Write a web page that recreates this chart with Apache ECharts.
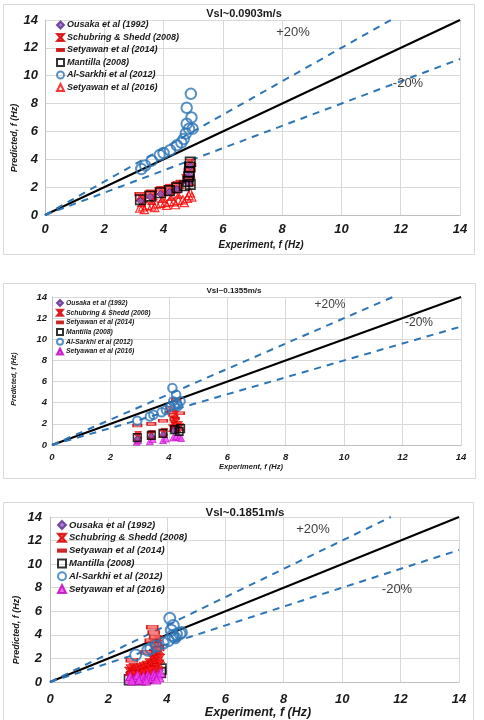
<!DOCTYPE html>
<html><head><meta charset="utf-8">
<script src="https://cdn.jsdelivr.net/npm/echarts@6/dist/echarts.min.js"></script>
<style>html,body{margin:0;padding:0;background:#fff}#c{width:484px;height:720px}</style>
</head><body><div id="c"></div>
<script>
// ---------- labels ----------
const seriesNames = ['Ousaka et al (1992)','Schubring & Shedd (2008)','Setyawan et al (2014)','Mantilla (2008)','Al-Sarkhi et al (2012)','Setyawan et al (2016)'];
const panelTitles = ['Vsl~0.0903m/s','Vsl~0.1355m/s','Vsl~0.1851m/s'];
const xTitle = 'Experiment, f (Hz)';
const yTitle = 'Predicted, f (Hz)';
const axisTicks = [0,2,4,6,8,10,12,14];
// reference lines (x,y)
const parityLine = [[0,0],[14,14]];
const plus20Line = [[0,0],[11.667,14]];
const minus20Line = [[0,0],[14,11.2]];

// ---------- Panel 1 : Vsl~0.0903 ----------
const p1_ousaka_x = [3.22,3.55,3.9,4.2,4.45,4.82,4.87,4.9];
const p1_ousaka_y = [1.0,1.3,1.5,1.65,1.85,2.3,2.9,3.5];
const p1_schub_x = [3.2,3.3,3.55,3.65,3.9,4.0,4.2,4.3,4.45,4.55,4.75,4.85,4.88,4.9,4.92,3.25,3.6,3.95,4.25,4.5];
const p1_schub_y = [1.3,1.2,1.5,1.4,1.75,1.7,1.9,1.85,2.1,2.2,2.6,3.0,3.4,3.7,2.4,0.9,1.05,1.2,1.35,1.5];
const p1_set14_x = [3.22,3.55,3.9,4.2,4.45,4.85,4.88,4.9];
const p1_set14_y = [1.5,1.6,1.85,2.0,2.2,2.7,3.2,3.6];
const p1_mant_x = [3.22,3.55,3.9,4.2,4.45,4.7,4.82,4.85,4.87,4.88,4.9,4.9];
const p1_mant_y = [1.1,1.35,1.6,1.75,1.95,2.1,2.4,2.75,3.1,3.45,3.8,2.2];
const p1_sark_x = [3.25,3.38,3.6,3.87,4.0,4.22,4.45,4.6,4.68,4.75,4.78,4.86,4.94,4.98,4.78,4.92];
const p1_sark_y = [3.3,3.55,3.9,4.3,4.45,4.65,5.0,5.2,5.45,5.85,6.55,6.2,7.0,6.2,7.7,8.7];
const p1_set16_x = [3.2,3.3,3.45,3.6,3.75,3.9,4.05,4.2,4.35,4.5,4.65,4.8,4.85,4.9,4.95,3.35,3.7,4.1,4.4,4.7];
const p1_set16_y = [0.5,0.6,0.7,0.65,0.8,0.85,0.9,0.95,0.95,1.05,1.1,1.2,1.4,1.6,1.3,0.4,0.55,0.7,0.75,0.9];

// ---------- Panel 2 : Vsl~0.1355 ----------
const p2_ousaka_x = [2.92,3.4,3.8,4.15,4.3];
const p2_ousaka_y = [0.6,0.85,1.0,1.35,1.6];
const p2_schub_x = [2.92,2.95,3.38,3.42,3.8,3.85,4.1,4.15,4.18,4.2,4.22,4.25,4.3,4.35,4.4];
const p2_schub_y = [0.75,0.95,0.9,1.05,1.1,1.25,1.6,2.0,2.4,1.8,2.9,2.2,1.5,1.9,1.7];
const p2_set14_x = [2.92,3.4,3.8,4.05,4.1,4.15,4.2,4.25,4.38];
const p2_set14_y = [1.85,2.0,2.3,3.5,3.15,2.85,2.5,4.3,3.0];
const p2_mant_x = [2.92,3.4,3.8,4.2,4.4,4.35];
const p2_mant_y = [0.7,0.9,1.1,1.45,1.55,1.3];
const p2_sark_x = [2.92,3.35,3.47,3.75,3.9,4.05,4.12,4.15,4.2,4.25,4.28,4.32,4.4];
const p2_sark_y = [2.3,2.7,2.85,3.1,3.3,3.65,5.4,4.15,3.8,4.75,3.95,3.7,4.15];
const p2_set16_x = [2.9,2.95,3.35,3.45,3.8,3.9,4.15,4.25,4.35,4.42];
const p2_set16_y = [0.3,0.45,0.35,0.55,0.45,0.6,0.7,0.8,0.75,0.65];

// ---------- Panel 3 : Vsl~0.1851 ----------
const p3_ousaka_x = [2.72,3.0,3.3,3.55,3.75];
const p3_ousaka_y = [0.8,0.6,0.7,0.9,1.0];
const p3_schub_x = [2.7,2.75,2.8,2.85,2.9,2.95,3.0,3.05,3.1,3.15,3.2,3.25,3.3,3.35,3.4,3.45,3.5,3.5,3.55,3.55,3.6,3.6,3.65,3.65,3.7,3.7,3.72,3.75,3.78,2.75,2.9,3.05,3.2,3.35,3.5,3.65,3.75,3.6,3.45];
const p3_schub_y = [0.9,1.1,0.8,1.2,0.7,1.0,1.1,0.9,1.2,1.0,1.3,1.1,1.4,1.2,1.6,1.4,2.0,1.5,1.8,2.3,2.1,2.6,1.9,2.9,3.2,2.4,3.5,2.7,2.0,0.5,0.6,0.55,0.7,0.8,0.9,1.2,1.5,1.0,0.95];
const p3_set14_x = [2.8,3.3,3.45,3.5,3.55,3.6,3.62,3.7];
const p3_set14_y = [1.85,2.5,3.5,4.65,4.2,3.8,3.2,2.8];
const p3_mant_x = [2.72,2.9,3.1,3.3,3.78,3.8];
const p3_mant_y = [0.2,0.25,0.2,0.3,0.8,1.1];
const p3_sark_x = [2.93,3.35,3.45,3.65,3.88,4.05,4.1,4.15,4.22,4.28,4.33,4.45,4.5,4.2];
const p3_sark_y = [2.3,2.7,2.85,3.05,3.3,3.5,5.4,4.4,4.8,3.75,4.05,4.1,4.2,3.95];
const p3_set16_x = [2.7,2.75,2.85,2.95,3.0,3.1,3.2,3.25,3.35,3.4,3.5,3.55,3.6,3.7,3.75,3.8,2.8,3.05,3.3,3.65];
const p3_set16_y = [0.3,0.5,0.2,0.4,0.6,0.3,0.5,0.2,0.6,0.4,0.3,0.7,0.5,0.6,0.4,0.8,0.1,0.15,0.1,0.2];

// ---------- build ----------
const FONT = '"Liberation Sans",Arial,sans-serif';
const HOURGLASS = 'path://M0,0 L10,0 L6,5 L10,10 L0,10 L4,5 Z';
const DASH_ICON = 'path://M0,0 L10,0 L10,3 L0,3 Z';
const BLUE = '#2e75b6';
const zip = (xs, ys) => xs.map((x, i) => [x, ys[i]]);

const panels = [
  {data:[[p1_ousaka_x,p1_ousaka_y],[p1_schub_x,p1_schub_y],[p1_set14_x,p1_set14_y],[p1_mant_x,p1_mant_y],[p1_sark_x,p1_sark_y],[p1_set16_x,p1_set16_y]],
   grid:{left:45,top:20,width:415,height:195}, s:1.05, tri:'hollow', tick:13, tickMarginX:8, tickMarginY:7,
   z:[5,3,4,6,7,2],
   legend:{left:56,top:19.5,font:9,lh:11,gap:1.5,icon:7}, title:[244,14,11], xt:[261,245,10], yt:[15,138,9],
   p20:[293,32,13], m20:[408,83,13], box:[3,4,471,250]},
  {data:[[p2_ousaka_x,p2_ousaka_y],[p2_schub_x,p2_schub_y],[p2_set14_x,p2_set14_y],[p2_mant_x,p2_mant_y],[p2_sark_x,p2_sark_y],[p2_set16_x,p2_set16_y]],
   grid:{left:52,top:297,width:409,height:148}, s:0.85, tri:'fill', tick:9.5, tickMarginX:7, tickMarginY:5,
   z:[5,4,3,6,7,2],
   legend:{left:56,top:299,font:6.8,lh:8,gap:1.7,icon:6}, title:[234,291,8], xt:[251,467,7.5], yt:[14,379,7],
   p20:[330,305,12], m20:[419,323,12], box:[3,283,472,195]},
  {data:[[p3_ousaka_x,p3_ousaka_y],[p3_schub_x,p3_schub_y],[p3_set14_x,p3_set14_y],[p3_mant_x,p3_mant_y],[p3_sark_x,p3_sark_y],[p3_set16_x,p3_set16_y]],
   grid:{left:50,top:517,width:409,height:165}, s:1.1, tri:'fill', tick:13, tickMarginX:11, tickMarginY:8,
   z:[3,4,6,2,7,5],
   legend:{left:57,top:519.5,font:9.5,lh:11,gap:1.8,icon:8}, title:[245,513,11.5], xt:[258,713,12.5], yt:[17,630,9],
   p20:[313,529,13], m20:[397,589,13], box:[3,502,470,230]}
];

const grids = [], xAxes = [], yAxes = [], series = [], legends = [], graphics = [];
const axisLabelStyle = (p) => ({fontSize:p.tick, fontWeight:'bold', fontStyle:'italic', color:'#1a1a1a', fontFamily:FONT});

panels.forEach((p, k) => {
  graphics.push({type:'rect', shape:{x:p.box[0]+0.5,y:p.box[1]+0.5,width:p.box[2],height:p.box[3]}, style:{fill:'none',stroke:'#d9d9d9',lineWidth:1}, z:-10});
  grids.push(Object.assign({containLabel:false}, p.grid));
  const axBase = {type:'value', min:0, max:14, interval:2, gridIndex:k,
    axisLine:{show:true, lineStyle:{color:'#bfbfbf',width:1}}, axisTick:{show:false},
    splitLine:{show:true, lineStyle:{color:'#d9d9d9',width:1}}};
  xAxes.push(Object.assign({}, axBase, {axisLabel:Object.assign({margin:p.tickMarginX}, axisLabelStyle(p))}));
  yAxes.push(Object.assign({}, axBase, {axisLabel:Object.assign({margin:p.tickMarginY}, axisLabelStyle(p))}));

  const lineS = (d, color, type, w) => ({type:'line', xAxisIndex:k, yAxisIndex:k, data:d, symbol:'none', silent:true,
    lineStyle:{color, type, width:w}, z:1, animation:false});
  series.push(lineS(parityLine, '#000', 'solid', 2));
  series.push(lineS(plus20Line, BLUE, [7,6], 2));
  series.push(lineS(minus20Line, BLUE, [7,6], 2));

  const s = p.s;
  const styles = [
    {symbol:'diamond', symbolSize:7*s, itemStyle:{color:'#8e5cc8', borderColor:'#5a2a8c', borderWidth:1}},
    {symbol:HOURGLASS, symbolSize:8*s, itemStyle:{color:'#ff1a1a', borderColor:'#d00000', borderWidth:0.8}},
    {symbol:'rect', symbolSize:[10*s,3.5*s], itemStyle:{color:'#ff6060', borderColor:'#c00000', borderWidth:1}},
    {symbol:'rect', symbolSize:9*s, itemStyle:{color:'rgba(255,255,255,0)', borderColor:'#000', borderWidth:1.6}},
    {symbol:'circle', symbolSize:10*s, itemStyle:{color:'rgba(255,255,255,0)', borderColor:BLUE, borderWidth:2}},
    p.tri === 'hollow'
      ? {symbol:'triangle', symbolSize:8*s, itemStyle:{color:'rgba(255,255,255,0)', borderColor:'#ff0000', borderWidth:1.2}}
      : {symbol:'triangle', symbolSize:8*s, itemStyle:{color:'#ee44ee', borderColor:'#c000c0', borderWidth:0.8}}
  ];
  const legendData = [];
  seriesNames.forEach((nm, i) => {
    const id = nm + '#' + (k+1);
    series.push(Object.assign({type:'scatter', name:id, xAxisIndex:k, yAxisIndex:k,
      data: zip(p.data[i][0], p.data[i][1]), z: 2 + p.z[i], animation:false}, styles[i]));
    legendData.push(i === 2 ? {name:id, icon:DASH_ICON} : {name:id});
  });
  legends.push({data:legendData, orient:'vertical', left:p.legend.left, top:p.legend.top, padding:0,
    itemGap:p.legend.gap, itemWidth:p.legend.icon, itemHeight:p.legend.icon, selectedMode:false, symbolKeepAspect:true,
    formatter:(n) => n.split('#')[0],
    textStyle:{fontSize:p.legend.font, lineHeight:p.legend.lh, fontWeight:'bold', fontStyle:'italic', color:'#1a1a1a', fontFamily:FONT, padding:[0,0,0,-2]}});

  const txt = (t, x, y, size, font, extra) => Object.assign({type:'text', x, y, silent:true, z:50,
    style:{text:t, fill:'#1a1a1a', font:font + ' ' + size + 'px ' + FONT, align:'center', verticalAlign:'middle'}}, extra||{});
  graphics.push(txt(panelTitles[k], p.title[0], p.title[1], p.title[2], 'bold'));
  graphics.push(txt(xTitle, p.xt[0], p.xt[1], p.xt[2], 'italic bold'));
  graphics.push(txt(yTitle, p.yt[0], p.yt[1], p.yt[2], 'italic bold', {rotation:Math.PI/2}));
  const lbl = (t, pos) => ({type:'text', x:pos[0], y:pos[1], silent:true, z:50,
    style:{text:t, fill:'#404040', font:pos[2] + 'px ' + FONT, align:'center', verticalAlign:'middle'}});
  graphics.push(lbl('+20%', p.p20));
  graphics.push(lbl('-20%', p.m20));
});

const chart = echarts.init(document.getElementById('c'), null, {renderer:'canvas'});
chart.setOption({backgroundColor:'#fff', animation:false, grid:grids, xAxis:xAxes, yAxis:yAxes, series, legend:legends, graphic:graphics});
</script></body></html>
